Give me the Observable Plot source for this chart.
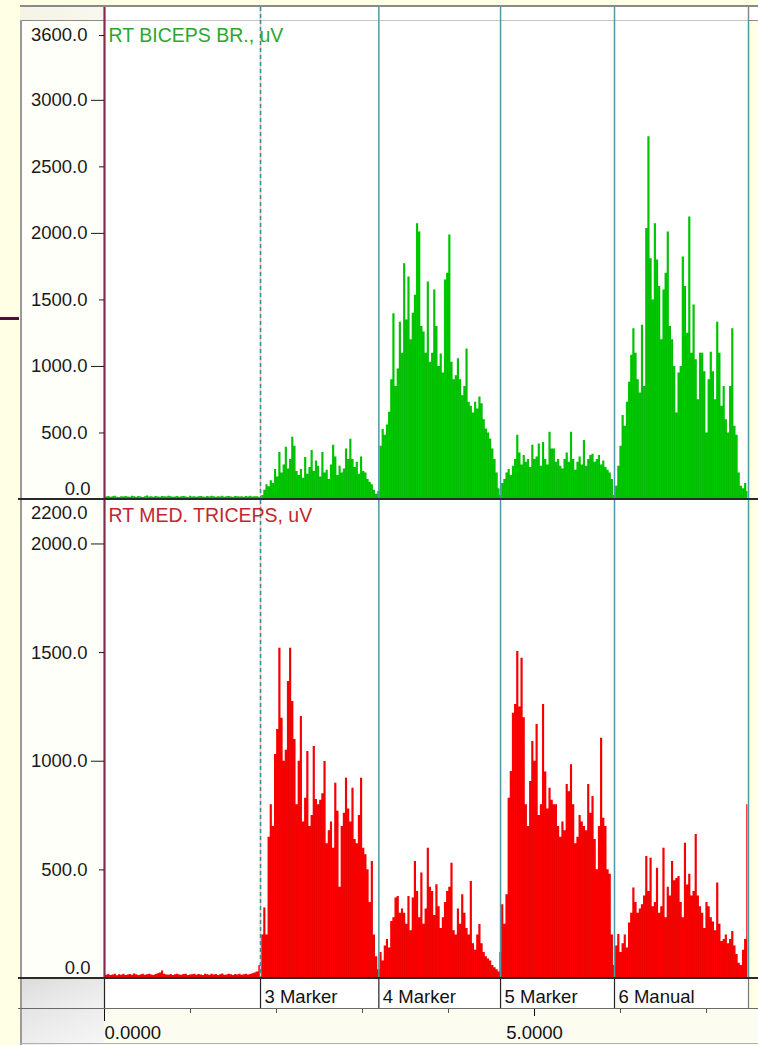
<!DOCTYPE html>
<html>
<head>
<meta charset="utf-8">
<script src="https://cdn.jsdelivr.net/npm/d3@7"></script>
<script src="https://cdn.jsdelivr.net/npm/@observablehq/plot@0.6"></script>
<style>
  html, body { margin: 0; padding: 0; }
  body { width: 758px; height: 1045px; background: #FFFFE6; position: relative; overflow: hidden;
         font-family: "Liberation Sans", Arial, sans-serif; }
  .abs { position: absolute; }
  .abs svg { display: block; }
</style>
</head>
<body>
<!-- window chrome around the two EMG channels -->
<div class="abs" style="left:20px;top:5px;width:738px;height:2px;background:#8a8a8a"></div>
<div class="abs" style="left:20px;top:7px;width:738px;height:13px;background:linear-gradient(to right,#f3f3e6 0,#f8f8ee 84px,#ffffff 84px)"></div>
<div class="abs" style="left:20px;top:20px;width:738px;height:1px;background:#8a8a8a"></div>
<div class="abs" style="left:22px;top:21px;width:82px;height:957px;background:#FFFFF9"></div>
<div class="abs" style="left:22px;top:979px;width:82px;height:29px;background:linear-gradient(to bottom right,#dcdcdc,#f2f2f2)"></div>
<div class="abs" style="left:22px;top:1009px;width:736px;height:36px;background:#FCFCF1"></div>
<div class="abs" style="left:22px;top:1009px;width:82px;height:36px;background:linear-gradient(to bottom right,#e4e4e4,#f7f7f7)"></div>
<div class="abs" style="left:0px;top:317px;width:19px;height:3px;background:#4A0F3A"></div>

<div id="hdr" class="abs" style="left:20px;top:7px"></div>
<div id="biceps" class="abs" style="left:20px;top:20px"></div>
<div id="triceps" class="abs" style="left:20px;top:500px"></div>
<div id="markers" class="abs" style="left:20px;top:979px"></div>
<div id="time" class="abs" style="left:20px;top:1008px"></div>

<div class="abs" style="left:20px;top:20px;width:2px;height:1025px;background:#9a9a9a"></div>
<div class="abs" style="left:18px;top:498px;width:740px;height:2px;background:#2a2a2a"></div>
<div class="abs" style="left:18px;top:977px;width:740px;height:2px;background:#2a2a2a"></div>
<div class="abs" style="left:18px;top:1008px;width:740px;height:1px;background:#6a6a6a"></div>
<div class="abs" style="left:20px;top:1043px;width:738px;height:1px;background:#b0b0b0"></div>

<script>
// Sampling interval of the rectified EMG trace, seconds
const step = 0.025;

// Event markers (seconds) and their captions
const markerTimes = [1.814, 3.19, 4.605, 5.93];
const markerLabels = ["3 Marker", "4 Marker", "5 Marker", "6 Manual"];
const tEnd = 7.488;
const secondTicks = [0, 1, 2, 3, 4, 5, 6, 7];
const labeledSeconds = [0, 5];

// Channel scales and tick labels (uV)
const bicepsMax = 3600;
const tricepsMax = 2200;
const bicepsTicks = [500, 1000, 1500, 2000, 2500, 3000];
const tricepsTicks = [500, 1000, 1500, 2000];

// RT BICEPS BR. amplitude (uV), one array per segment between markers
const bicepsRest = [14,18,22,16,20,25,17,15,21,19, 23,18,16,24,20,17,22,19,15,21,
  26,18,20,16,23,19,17,22,20,18, 25,21,16,19,23,17,20,22,18,15,
  24,19,21,17,20,23,18,16,22,19, 25,20,17,21,18,24,16,20,22,19,
  17,23,21,18,20,16,22,19,24,18, 21,20];
const bicepsM3 = [15,30,70,110,95,140,120,226,170,354,
  200,260,392,230,300,467,400,210,180,226,
  160,316,190,240,369,210,290,250,170,354,
  200,220,150,260,407,320,180,250,200,230,
  380,300,452,300,240,280,190,320,210,200,
  150,130,110,70,40];
const bicepsM4 = [60,400,527,482,560,655,900,1396,850,981,
  1333,1100,1772,1350,1672,1200,1400,1536,2073,2011,
  1300,1258,1100,1634,1032,1100,1574,1300,1000,1094,
  950,1649,1700,1988,1032,900,930,1057,900,780,
  850,1132,730,700,650,730,680,770,720,600,
  530,500,454,380,300,200,80];
const bicepsM5 = [30,120,150,200,226,180,250,300,482,350,
  260,330,280,300,240,407,300,320,417,250,
  429,300,260,505,380,380,280,300,250,230,
  300,350,280,505,300,220,280,320,260,444,
  250,300,330,340,280,300,330,260,290,240,
  220,200,150];
const bicepsM6 = [30,100,250,400,632,550,730,881,1084,1283,
  1100,900,800,1310,850,2036,2726,1810,1500,2073,
  1800,1600,1200,1574,1700,2011,1300,1200,1000,650,
  950,1000,1822,1600,1250,2124,1100,1461,1050,750,
  1100,1100,960,500,900,1107,960,750,1333,1100,
  700,850,600,500,850,1283,550,482,200,100,
  80,120,60];

// RT MED. TRICEPS amplitude (uV)
const tricepsRest = [12,15,18,14,16,20,13,17,15,19, 14,16,18,15,21,17,14,16,19,15,
  17,20,16,14,18,22,25,35,20,16, 15,18,14,17,19,16,15,18,20,14,
  16,17,19,15,18,16,14,20,17,15, 19,16,18,14,17,21,15,16,19,17,
  14,18,16,20,15,17,19,16,18,22, 25,30];
const tricepsM3 = [60,200,324,200,650,800,700,1031,1146,1520,
  1198,1000,1050,1367,1520,1275,1100,800,1000,1206,
  720,830,1045,700,750,1068,824,800,820,850,
  999,620,680,720,600,899,770,420,700,760,
  922,780,720,876,640,620,750,922,600,570,
  500,350,538,200,100];
const tricepsM4 = [40,120,80,150,180,140,262,280,370,377,
  300,320,300,250,377,220,370,538,400,280,
  485,250,320,600,420,400,290,432,330,230,
  280,350,400,420,531,220,200,320,250,386,
  300,230,200,446,160,130,200,248,160,120,
  100,90,80,60,50,40,30];
const tricepsM5 = [120,340,250,386,830,953,1221,1261,1505,1250,
  1474,1200,800,700,907,1091,1000,1169,750,800,
  1261,950,780,876,820,800,800,700,650,720,
  680,893,860,984,800,620,650,750,720,700,
  680,893,760,838,640,500,700,1106,738,700,
  500,480,200];
const tricepsM6 = [60,150,202,120,160,200,140,255,300,416,
  350,300,320,340,380,561,400,554,330,350,
  508,300,330,600,280,420,380,538,450,460,
  470,350,280,623,430,480,380,400,663,380,
  330,300,230,350,330,280,260,220,439,250,
  170,180,200,160,180,216,150,110,70,60,
  130,180,800];

const segmentStarts = [0, ...markerTimes];

// Flatten the segments into {t, v} samples, each segment starting at its marker
function toSeries(segments) {
  return segments.flatMap((vals, s) => vals.map((v, k) => ({t: segmentStarts[s] + k * step, v})));
}

const biceps = toSeries([bicepsRest, bicepsM3, bicepsM4, bicepsM5, bicepsM6]);
const triceps = toSeries([tricepsRest, tricepsM3, tricepsM4, tricepsM5, tricepsM6]);

const fmt = d => d.toFixed(1);
const ink = "#1a1a1a";
const teal = "#4a9ba6";
const maroon = "#862a4e";

const base = {
  width: 738,
  marginLeft: 84,
  marginRight: 10,
  marginTop: 0,
  marginBottom: 0,
  style: {
    background: "transparent",
    overflow: "visible",
    fontFamily: "'Liberation Sans', Arial, sans-serif",
    fontSize: "18.5px",
    color: ink
  }
};

function markerRules() {
  return [
    Plot.ruleX([markerTimes[0]], {stroke: "#f2c4c4", strokeWidth: 1.5}),
    Plot.ruleX([markerTimes[0]], {stroke: "#3b8d99", strokeWidth: 1.5, strokeDasharray: "4,3"}),
    Plot.ruleX(markerTimes.slice(1), {stroke: teal, strokeWidth: 1.5})
  ];
}

function channel({data, color, edge, yMax, ticks, name, nameColor, height, maxDy, maxTick}) {
  return Plot.plot({
    ...base,
    height,
    x: {domain: [0, tEnd], axis: null},
    y: {domain: [0, yMax], label: null},
    marks: [
      Plot.frame({fill: "white", stroke: null}),
      // solid body of the rectified signal, one step per sample
      Plot.areaY(data, {x: "t", y: "v", curve: "step", fill: color, clip: true}),
      // thin darker strokes give the spiky texture of the raw trace
      Plot.ruleX(data, {x: "t", y1: 0, y2: "v", stroke: edge, strokeWidth: 0.6, strokeOpacity: 0.35, clip: true}),
      ...markerRules(),
      Plot.ruleX([tEnd], {stroke: teal, strokeWidth: 1.5}),
      Plot.ruleX([0], {stroke: maroon, strokeWidth: 2.2}),
      Plot.axisY({ticks: ticks.filter(d => d % 1000 === 0), tickSize: 13, tickPadding: 4, tickFormat: fmt, label: null, color: ink}),
      Plot.axisY({ticks: ticks.filter(d => d % 1000 !== 0), tickSize: 5, tickPadding: 12, tickFormat: fmt, label: null, color: ink}),
      Plot.axisY({ticks: [0], tickSize: 9, tickFormat: () => "", label: null, color: ink}),
      Plot.axisY({ticks: [0], tickSize: 0, tickPadding: 14, dy: -10, tickFormat: fmt, label: null, color: ink}),
      Plot.axisY({ticks: [yMax], tickSize: maxTick, tickPadding: 17 - maxTick, dy: maxDy, tickFormat: fmt, label: null, color: ink}),
      Plot.text([name], {frameAnchor: "top-left", dx: 4, dy: 8, lineAnchor: "top", textAnchor: "start", fill: nameColor, fontSize: 19.5})
    ]
  });
}

document.getElementById("hdr").append(Plot.plot({
  ...base,
  height: 13,
  x: {domain: [0, tEnd], axis: null},
  marks: [
    ...markerRules(),
    Plot.ruleX([tEnd], {stroke: "#888", strokeWidth: 1.5}),
    Plot.ruleX([0], {stroke: maroon, strokeWidth: 2.2})
  ]
}));

document.getElementById("biceps").append(channel({
  data: biceps, color: "#00CA00", edge: "#1f7f1f", yMax: bicepsMax, ticks: bicepsTicks,
  name: "RT BICEPS BR., uV", nameColor: "#2fa52f", height: 479, maxDy: 15, maxTick: 5
}));

document.getElementById("triceps").append(channel({
  data: triceps, color: "#FF0000", edge: "#9a0f14", yMax: tricepsMax, ticks: tricepsTicks,
  name: "RT MED. TRICEPS, uV", nameColor: "#c0282e", height: 478, maxDy: 13, maxTick: 0
}));

document.getElementById("markers").append(Plot.plot({
  ...base,
  height: 29,
  x: {domain: [0, tEnd], axis: null},
  marks: [
    Plot.frame({fill: "white", stroke: null}),
    Plot.ruleX([0, ...markerTimes], {stroke: "#222", strokeWidth: 1.2}),
    Plot.ruleX([tEnd], {stroke: "#777", strokeWidth: 1.2}),
    Plot.text(markerTimes, {x: d => d, text: (d, i) => markerLabels[i], textAnchor: "start", dx: 4, dy: 3, fill: "#111"})
  ]
}));

document.getElementById("time").append(Plot.plot({
  ...base,
  height: 37,
  marginBottom: 36,
  x: {domain: [0, tEnd]},
  marks: [
    Plot.axisX({ticks: secondTicks.filter(d => !labeledSeconds.includes(d)), tickSize: 4, tickFormat: () => "", label: null, color: "#555"}),
    Plot.axisX({ticks: [0], tickSize: 12, tickPadding: 4, tickFormat: d => d.toFixed(4), textAnchor: "start", label: null, color: "#111"}),
    Plot.axisX({ticks: [5], tickSize: 7, tickPadding: 9, tickFormat: d => d.toFixed(4), label: null, color: "#111"})
  ]
}));
</script>
</body>
</html>
